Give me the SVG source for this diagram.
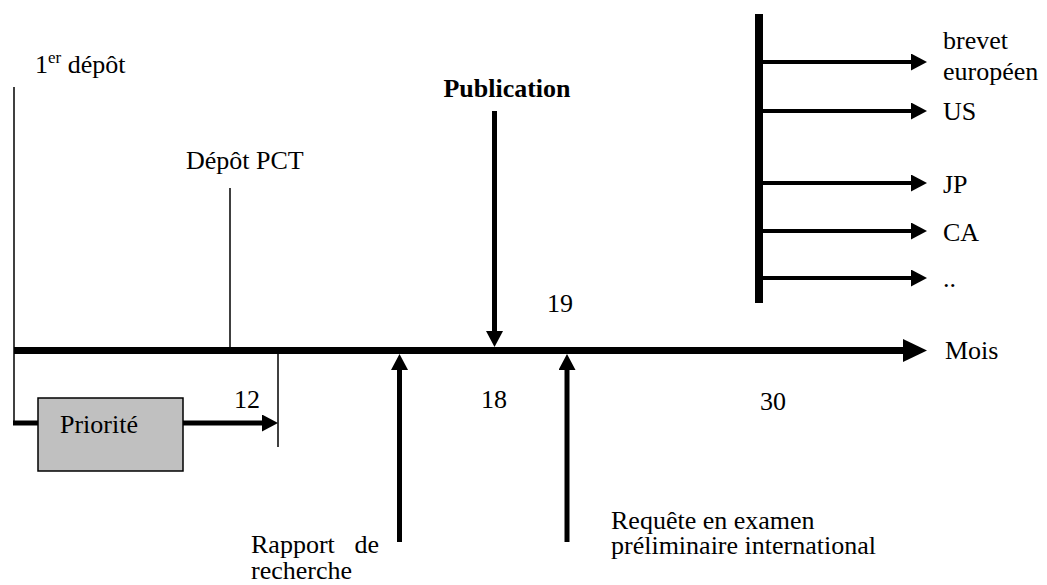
<svg xmlns="http://www.w3.org/2000/svg" width="1047" height="585" viewBox="0 0 1047 585">
<style>
.t{font-family:'Liberation Serif','Times New Roman','DejaVu Serif',serif;font-size:26px;fill:#000}
.b{font-weight:bold}
.thin{stroke:#000;stroke-width:1.5;fill:none}
.thick{stroke:#000;stroke-width:5;fill:none}
.br{stroke:#000;stroke-width:4;fill:none}
</style>
<defs>
<marker id="ah" markerUnits="userSpaceOnUse" markerWidth="16" markerHeight="17" refX="0" refY="8.5" orient="auto" viewBox="0 0 16 17">
<path d="M0,0 L16,8.5 L0,17 Z" fill="#000"/>
</marker>
<marker id="big" markerUnits="userSpaceOnUse" markerWidth="24" markerHeight="23" refX="0" refY="11.5" orient="auto" viewBox="0 0 24 23">
<path d="M0,0 L24,11.5 L0,23 Z" fill="#000"/>
</marker>
</defs>
<rect width="1047" height="585" fill="#fff"/>
<g id="connectors">
<line x1="14" y1="350.5" x2="903" y2="350.5" stroke="#000" stroke-width="7" marker-end="url(#big)"/>
<line class="thin" x1="14" y1="87" x2="14" y2="424"/>
<line class="thick" x1="13" y1="423" x2="38" y2="423"/>
<line class="thick" x1="183" y1="423" x2="262" y2="423" marker-end="url(#ah)"/>
<line class="thin" x1="278" y1="354" x2="278" y2="447"/>
<line class="thin" x1="230" y1="188" x2="230" y2="350"/>
<line class="thick" x1="494.5" y1="111" x2="494.5" y2="331" marker-end="url(#ah)"/>
<line class="thick" x1="399.5" y1="542" x2="399.5" y2="370" marker-end="url(#ah)"/>
<line class="thick" x1="567" y1="542" x2="567" y2="370" marker-end="url(#ah)"/>
<line x1="759" y1="14" x2="759" y2="303" stroke="#000" stroke-width="8"/>
<line class="br" x1="763" y1="62" x2="911" y2="62" marker-end="url(#ah)"/>
<line class="br" x1="763" y1="111" x2="911" y2="111" marker-end="url(#ah)"/>
<line class="br" x1="763" y1="183" x2="911" y2="183" marker-end="url(#ah)"/>
<line class="br" x1="763" y1="231" x2="911" y2="231" marker-end="url(#ah)"/>
<line class="br" x1="763" y1="278" x2="911" y2="278" marker-end="url(#ah)"/>
</g>
<g font-family="'Liberation Serif', 'Times New Roman', serif" font-size="26">
<g id="premier-depot"><text class="t" x="35" y="73">1<tspan font-size="17" dy="-10">er</tspan><tspan dy="10"> dépôt</tspan></text></g>
<g id="depot-pct"><text class="t" x="186" y="169">Dépôt PCT</text></g>
<g id="publication"><text class="t b" x="507" y="97" text-anchor="middle">Publication</text></g>
<g id="priorite"><rect x="38" y="398" width="145" height="73" fill="#c0c0c0" stroke="#000" stroke-width="1.5"/><text class="t" x="60" y="433">Priorité</text></g>
<g id="m12"><text class="t" x="234" y="408">12</text></g>
<g id="m18"><text class="t" x="481" y="408">18</text></g>
<g id="m19"><text class="t" x="547" y="312">19</text></g>
<g id="m30"><text class="t" x="760" y="410">30</text></g>
<g id="mois"><text class="t" x="945" y="359">Mois</text></g>
<g id="rapport"><text class="t" x="251" y="553">Rapport</text><text class="t" x="379" y="553" text-anchor="end">de</text><text class="t" x="251" y="579">recherche</text></g>
<g id="requete"><text class="t" x="611" y="529">Requête en examen</text><text class="t" x="611" y="554">préliminaire international</text></g>
<g id="pays">
<text class="t" x="943" y="49">brevet</text><text class="t" x="943" y="80">européen</text>
<text class="t" x="943" y="120">US</text>
<text class="t" x="943" y="193">JP</text>
<text class="t" x="943" y="241">CA</text>
<text class="t" x="943" y="287">..</text>
</g>
</g>
</svg>
